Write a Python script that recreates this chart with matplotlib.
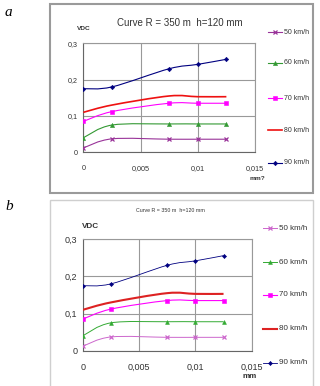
import numpy as np
import matplotlib
matplotlib.use("Agg")
import matplotlib.pyplot as plt
from matplotlib.path import Path
from matplotlib.patches import PathPatch, Rectangle
from matplotlib.lines import Line2D

# data
deflection = [0, 0.0025, 0.0075, 0.01, 0.0125]
vdc_50 = [0.012, 0.037, 0.036, 0.036, 0.036]
vdc_60 = [0.040, 0.075, 0.078, 0.078, 0.078]
vdc_70 = [0.085, 0.112, 0.135, 0.135, 0.135]
vdc_80 = [0.110, 0.130, 0.155, 0.153, 0.153]
vdc_90 = [0.175, 0.180, 0.230, 0.242, 0.256]
speeds = ["50 km/h", "60 km/h", "70 km/h", "80 km/h", "90 km/h"]
x_ticks = [0, 0.005, 0.01, 0.015]
y_ticks = [0, 0.1, 0.2, 0.3]
x_ticklabels = ["0", "0,005", "0,01", "0,015"]
y_ticklabels = ["0", "0,1", "0,2", "0,3"]

W, H = 320, 386


def fbox(x0, y0, x1, y1):
    # pixel box -> figure fraction [l, b, w, h]
    return [x0 / W, 1 - y1 / H, (x1 - x0) / W, (y1 - y0) / H]


def smooth_path(xs, ys):
    # Excel-like smooth line: Catmull-Rom segments as cubic Beziers
    p = np.column_stack([xs, ys]).astype(float)
    pts = np.vstack([p[0], p, p[-1]])
    verts = [p[0]]
    codes = [Path.MOVETO]
    for i in range(1, len(pts) - 2):
        c1 = pts[i] + (pts[i + 1] - pts[i - 1]) / 6
        c2 = pts[i + 1] - (pts[i + 2] - pts[i]) / 6
        verts += [c1, c2, pts[i + 1]]
        codes += [Path.CURVE4] * 3
    return Path(verts, codes)


def msize(m, msz):
    return msz * 0.75 if m == "D" else msz


def draw_panel(fig, rect, colors, lws, fs_tick, fs_title, title_xy, vdc_xy,
               mm_text, mm_xy, leg_x, leg_ys, fs_leg, msz):
    ax = fig.add_axes(rect)
    series = [vdc_50, vdc_60, vdc_70, vdc_80, vdc_90]
    markers = ["x", "^", "s", None, "D"]
    handles = []
    for ys, c, m, lw in zip(series, colors, markers, lws):
        ax.add_patch(PathPatch(smooth_path(deflection, ys), fill=False,
                               edgecolor=c, lw=lw, zorder=3))
        if m is not None:
            ax.plot(deflection, ys, linestyle="none", marker=m, color=c,
                    markersize=msize(m, msz),
                    markeredgewidth=0.9 if m == "x" else 0.4, zorder=4)
        handles.append((c, m, lw))
    ax.set_xlim(0, 0.015)
    ax.set_ylim(0, 0.3)
    ax.set_xticks(x_ticks)
    ax.set_yticks(y_ticks)
    ax.set_xticklabels(x_ticklabels)
    ax.set_yticklabels(y_ticklabels)
    ax.tick_params(labelsize=fs_tick, length=0, colors="#333333")
    ax.tick_params(axis="x", pad=9)
    ax.tick_params(axis="y", pad=4)
    ax.grid(True, color="#999999", lw=0.8)
    ax.set_axisbelow(True)
    for s in ax.spines.values():
        s.set_color("#999999")
        s.set_linewidth(0.8)
    ax.spines["left"].set_color("#666666")
    ax.spines["bottom"].set_color("#666666")

    fig.text(title_xy[0] / W, 1 - title_xy[1] / H, "Curve R = 350 m  h=120 mm",
             ha="center", va="center", fontsize=fs_title, color="#333333")
    fig.text(vdc_xy[0] / W, 1 - vdc_xy[1] / H, "VDC", ha="center", va="center",
             fontsize=fs_tick * 0.9, fontweight="bold", color="#333333")
    fig.text(mm_xy[0] / W, 1 - mm_xy[1] / H, mm_text, ha="center", va="center",
             fontsize=fs_tick * 0.9, fontweight="bold", color="#333333")

    for (c, m, lw), lab, ly in zip(handles, speeds, leg_ys):
        yy = 1 - ly / H
        fig.add_artist(Line2D([leg_x / W, (leg_x + 14) / W], [yy, yy],
                              color=c, lw=lw))
        if m is not None:
            fig.add_artist(Line2D([(leg_x + 7) / W], [yy], marker=m, color=c,
                                  markersize=msize(m, msz),
                                  markeredgewidth=0.9 if m == "x" else 0.4))
        fig.text((leg_x + 16) / W, yy, lab, ha="left", va="center",
                 fontsize=fs_leg, color="#333333")
    return ax


fig = plt.figure(figsize=(W / 100, H / 100), dpi=100)
plt.rcParams["font.family"] = ["Liberation Sans", "DejaVu Sans"]

# outer frames
fig.add_artist(Rectangle((50 / W, 1 - 193 / H), 263 / W, 189 / H,
                         transform=fig.transFigure, fill=False,
                         edgecolor="#9a9a9a", lw=1.5))
fig.add_artist(Rectangle((50 / W, 1 - 390 / H), 263 / W, 190 / H,
                         transform=fig.transFigure, fill=False,
                         edgecolor="#cfcfcf", lw=1.0))

fig.text(5 / W, 1 - 13 / H, "a", fontsize=11, style="italic",
         family="Liberation Serif", ha="left", va="center")
fig.text(5 / W, 1 - 207 / H, "b", fontsize=11, style="italic",
         family="Liberation Serif", ha="left", va="center")

colors_a = ["#993399", "#339933", "#ff00ff", "#ee1111", "#000080"]
draw_panel(fig, fbox(83.3, 43.3, 255, 152.3), colors_a,
           [0.8, 0.8, 0.8, 1.2, 0.8], 5.2, 7.0, (180, 23), (84, 29),
           "mm?", (257, 178), 268, [32, 63, 98, 130, 163], 5.0, 3.0)

colors_b = ["#cc66cc", "#33aa33", "#ff00ff", "#dd2222", "#000080"]
draw_panel(fig, fbox(82.7, 239.3, 251.7, 350.7), colors_b,
           [0.7, 0.7, 0.8, 1.5, 0.6], 6.5, 3.8, (170, 210), (90, 227),
           "mm", (250, 377), 263, [228, 262, 295, 329, 363], 5.8, 2.8)

fig.savefig("out.png", dpi=100)
